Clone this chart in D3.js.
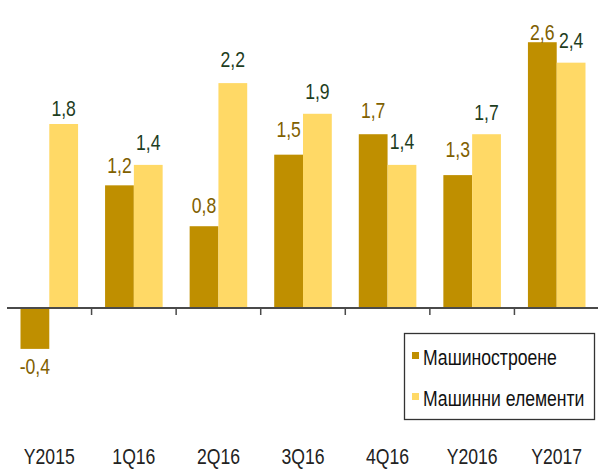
<!DOCTYPE html>
<html>
<head>
<meta charset="utf-8">
<script src="https://cdn.jsdelivr.net/npm/d3@7"></script>
<style>
  body { margin: 0; background: #fff; }
  text { font-family: 'Liberation Sans Narrow', 'Arial Narrow', 'Liberation Sans', sans-serif; }
</style>
</head>
<body>
<div id="chart"></div>
<script>
const categories = ['Y2015', '1Q16', '2Q16', '3Q16', '4Q16', 'Y2016', 'Y2017'];
const seriesNames = ['Машиностроене', 'Машинни елементи'];
const machinery = [-0.4, 1.2, 0.8, 1.5, 1.7, 1.3, 2.6];
const elements = [1.8, 1.4, 2.2, 1.9, 1.4, 1.7, 2.4];

// label lift above bar end, px
const liftMachinery = [10, 12, 13, 18, 16, 18, 2];
const liftElements = [8, 15, 16, 15, 16, 14, 15];

const colors = ['#BF8F00', '#FFD966'];
const labelColors = ['#806000', '#1E3D1E'];

const W = 598, H = 469;
const left = 7, right = 599;
const squeeze = 0.8; // narrow face, no Arial Narrow installed

const svg = d3.select('#chart')
  .append('svg')
  .attr('width', W)
  .attr('height', H);

// narrow text: place a group, squeeze it horizontally
function narrowText(parent, x, y, txt, opts) {
  const g = parent.append('g')
    .attr('transform', 'translate(' + x + ',' + y + ') scale(' + (opts.sx || squeeze) + ',1)');
  return g.append('text')
    .attr('text-anchor', opts.anchor || 'middle')
    .attr('font-size', opts.size || 22)
    .attr('fill', opts.fill || '#222')
    .text(txt);
}

const x0 = d3.scaleBand().domain(categories).range([left, right]);
const x1 = d3.scaleBand().domain([0, 1]).range([13.5, x0.bandwidth() - 13.5]);
const y = d3.scaleLinear().domain([0, 1.8]).range([308, 124]);

const rows = categories.map((c, i) => ({
  cat: c,
  vals: [machinery[i], elements[i]],
  lifts: [liftMachinery[i], liftElements[i]],
}));

const groups = svg.selectAll('.grp')
  .data(rows)
  .enter()
  .append('g')
  .attr('class', 'grp')
  .attr('transform', (d) => 'translate(' + x0(d.cat) + ',0)');

groups.selectAll('rect')
  .data((d) => d.vals.map((v, k) => ({ v, k })))
  .enter()
  .append('rect')
  .attr('x', (d) => x1(d.k))
  .attr('width', x1.bandwidth())
  .attr('y', (d) => Math.min(y(d.v), y(0)))
  .attr('height', (d) => Math.abs(y(d.v) - y(0)))
  .attr('fill', (d) => colors[d.k]);

groups.each(function (d) {
  const g = d3.select(this);
  d.vals.forEach((v, k) => {
    const ly = v < 0 ? y(v) + 15 + d.lifts[k] : y(v) - d.lifts[k];
    narrowText(g, x1(k) + x1.bandwidth() / 2, ly, String(v).replace('.', ','), {
      fill: labelColors[k],
    });
  });
});

// category axis at zero
svg.append('line')
  .attr('x1', left).attr('x2', right)
  .attr('y1', y(0)).attr('y2', y(0))
  .attr('stroke', '#4a4a4a')
  .attr('stroke-width', 2);

svg.selectAll('.tick')
  .data(categories.slice(1))
  .enter()
  .append('line')
  .attr('class', 'tick')
  .attr('x1', (d) => x0(d)).attr('x2', (d) => x0(d))
  .attr('y1', y(0)).attr('y2', y(0) + 7)
  .attr('stroke', '#4a4a4a')
  .attr('stroke-width', 1.5);

categories.forEach((c) => {
  narrowText(svg, x0(c) + x0.bandwidth() / 2, 464, c, { fill: '#222' });
});

// legend
const lg = svg.append('g');
lg.append('rect')
  .attr('x', 404.5).attr('y', 333.5)
  .attr('width', 190).attr('height', 86)
  .attr('fill', '#fff')
  .attr('stroke', '#333')
  .attr('stroke-width', 1.3);

seriesNames.forEach((name, i) => {
  lg.append('rect')
    .attr('x', 412).attr('y', 352 + i * 41)
    .attr('width', 7).attr('height', 7)
    .attr('fill', colors[i]);
  narrowText(lg, 423, 365 + i * 41, name, { anchor: 'start', size: 22, sx: 0.8, fill: '#111' });
});
</script>
</body>
</html>
